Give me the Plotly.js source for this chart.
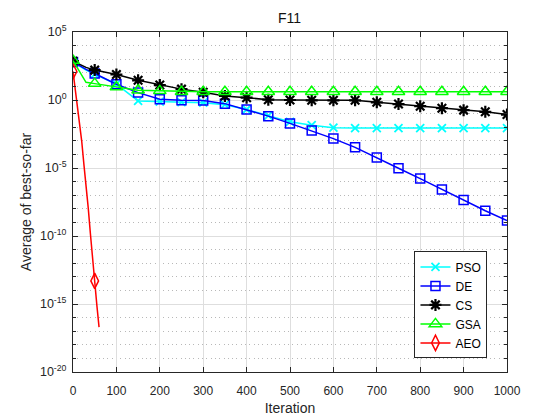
<!DOCTYPE html>
<html>
<head>
<meta charset="utf-8">
<script src="https://cdn.plot.ly/plotly-3.0.1.min.js"></script>
<style>
  html, body { margin: 0; padding: 0; background: #fff; }
  #chart { width: 560px; height: 420px; }
</style>
</head>
<body>
<div id="chart"></div>
<script>
// iterations shared by the four slow curves
var iters = [0, 30, 50, 100, 150, 200, 250, 300, 350, 400, 450, 500,
             550, 600, 650, 700, 750, 800, 850, 900, 950, 1000];

var pso = [630, 160, 79, 14.5, 0.85, 0.76, 0.71, 0.63, 0.45, 0.2, 0.071, 0.025,
           0.014, 9.3e-3, 8.7e-3, 8.7e-3, 8.7e-3, 8.7e-3, 8.7e-3, 8.7e-3, 8.7e-3, 8.7e-3];
var de  = [630, 178, 89, 14.5, 3.5, 1.12, 0.95, 0.93, 0.54, 0.2, 0.065, 0.019,
           5.6e-3, 1.45e-3, 3.3e-4, 6.0e-5, 9.5e-6, 1.66e-6, 2.6e-7, 4.4e-8, 7.2e-9, 1.38e-9];
var cs  = [710, 250, 158, 75, 28, 12.6, 6.3, 3.7, 2.0, 1.48, 1.05, 1.0,
           0.95, 0.95, 0.95, 0.68, 0.5, 0.35, 0.25, 0.18, 0.135, 0.085];
var gsa = [790, 20, 16, 9.1, 5.2, 4.7, 4.1, 4.0, 4.0, 4.0, 4.0, 4.0,
           4.0, 4.0, 4.0, 4.0, 4.0, 4.0, 4.0, 4.0, 4.0, 4.0];

// AEO stops early
var aeoIters = [0, 5, 10, 15, 20, 25, 30, 35, 40, 45, 50, 55, 60];
var aeo = [126, 6.3, 0.5, 0.032, 1e-3, 2e-5, 6.3e-7, 1.26e-8, 1.6e-10, 1.6e-12, 5e-14, 7.9e-16, 2e-17];

var yTickVals = [1e-20, 1e-15, 1e-10, 1e-5, 1, 1e5];
var yTickText = ['10<sup>-20</sup>', '10<sup>-15</sup>', '10<sup>-10</sup>',
                 '10<sup>-5</sup>', '10<sup>0</sup>', '10<sup>5</sup>'];
var yMinorVals = [];
for (var p = -19; p <= 4; p++) { if (p % 5 !== 0) yMinorVals.push(Math.pow(10, p)); }

// markers only every 50 iterations: the others are made transparent
function markColors(it, c) {
   return it.map(function (v) { return v % 50 === 0 ? c : 'rgba(0,0,0,0)'; });
}

function series(name, x, y, color, symbol, size, mlw) {
   return {
      x: x, y: y, name: name,
      type: 'scatter', mode: 'lines+markers',
      line: {color: color, width: 1.5},
      marker: {symbol: symbol, size: size, color: markColors(x, color),
               line: {color: markColors(x, color), width: mlw}}
   };
}

var data = [
   series('PSO', iters, pso, '#00ffff', 'x-thin-open', 8, 1.8),
   series('DE', iters, de, '#0000ff', 'square-open', 9, 1.5),
   series('CS', iters, cs, '#000000', 'asterisk-open', 10, 2.2),
   series('GSA', iters, gsa, '#00ff00', 'triangle-up-open', 11, 1.5),
   series('AEO', aeoIters, aeo, '#ff0000', 'diamond-tall-open', 11, 1.5)
];

var axisCol = '#262626';
var layout = {
   width: 560, height: 420,
   margin: {l: 73, r: 53, t: 32, b: 48},
   paper_bgcolor: '#fff', plot_bgcolor: '#fff',
   font: {family: 'Liberation Sans, Arial, sans-serif', size: 12, color: axisCol},
   title: {text: 'F11', font: {size: 14, color: '#111'}, x: 0.517, xanchor: 'center',
           y: 0.957, yanchor: 'middle'},
   xaxis: {
      title: {text: 'Iteration', font: {size: 14}, standoff: 5},
      range: [0, 1000], dtick: 100, ticks: 'inside', ticklen: 5, tickcolor: axisCol,
      tickfont: {size: 12}, ticklabelstandoff: 8,
      showline: true, linecolor: axisCol, linewidth: 1, mirror: 'ticks',
      showgrid: true, gridcolor: '#dedede', zeroline: false
   },
   yaxis: {
      title: {text: 'Average of best-so-far', font: {size: 14}, standoff: 5},
      type: 'log', range: [-20, 5],
      tickmode: 'array', tickvals: yTickVals, ticktext: yTickText,
      tickfont: {size: 12.5},
      ticks: 'inside', ticklen: 5, tickcolor: axisCol, ticklabelstandoff: 3,
      showline: true, linecolor: axisCol, linewidth: 1, mirror: 'ticks',
      showgrid: true, gridcolor: '#dedede', zeroline: false,
      minor: {tickmode: 'array', tickvals: yMinorVals, ticks: 'inside', ticklen: 3,
              tickcolor: axisCol, showgrid: true, griddash: '1px,3.3px', gridcolor: '#b8b8b8'}
   },
   legend: {
      x: 0.955, xanchor: 'right', y: 0.04, yanchor: 'bottom',
      bgcolor: '#fff', bordercolor: axisCol, borderwidth: 1,
      font: {size: 12, color: '#000'}, tracegroupgap: 0, itemwidth: 30
   },
   showlegend: true
};

Plotly.newPlot('chart', data, layout, {staticPlot: true});
</script>
</body>
</html>
